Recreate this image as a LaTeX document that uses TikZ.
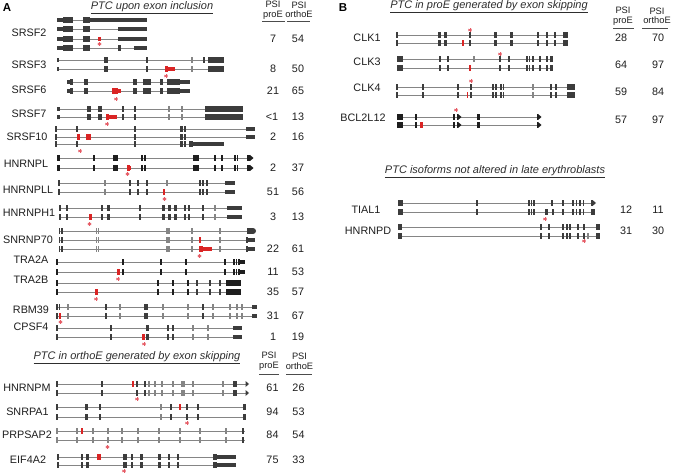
\documentclass[tikz,border=0pt]{standalone}
\usepackage{fontspec}
\setmainfont{Liberation Sans}
\definecolor{exc}{HTML}{3C3C3C}
\definecolor{exk}{HTML}{1E1E1E}
\definecolor{exl}{HTML}{858585}
\definecolor{intc}{HTML}{858585}
\definecolor{ptc}{HTML}{DA2424}
\definecolor{astc}{HTML}{E65A64}
\tikzset{
  intr/.style={draw=intc, line width=0.85pt},
  glab/.style={font=\fontsize{10.8}{12}\selectfont, text=black!88, inner sep=0pt},
  num/.style={font=\fontsize{10.8}{12}\selectfont, text=black!88, inner sep=0pt},
  hdr/.style={font=\fontsize{9.3}{9.6}\selectfont, text=black!88, align=center, inner sep=0pt},
  ttl/.style={font=\fontsize{11}{12}\selectfont\itshape, text=black!82, inner sep=0pt},
  panel/.style={font=\fontsize{11.5}{12}\selectfont\bfseries, inner sep=0pt},
  starc/.style={draw=astc, line width=0.8pt},
  hline/.style={draw=black!70, line width=0.6pt}
}
\newcommand\gline[3]{\draw[intr] (#1,#3) -- (#2,#3);}
\newcommand\bx[4][exc]{\fill[#1] (#2,#4-3.2) rectangle (#3,#4+3.2);}
\newcommand\ub[4][exc]{\fill[#1] (#2,#4-2.1) rectangle (#3,#4+2.1);}
\newcommand\bars[3][exc]{\foreach \xx in {#3}{\fill[#1] (\xx-0.75,#2-3.2) rectangle (\xx+0.75,#2+3.2);}}
\newcommand\tip[3][exc]{\fill[#1] (#2,#3-3) -- (#2+3.5,#3) -- (#2,#3+3) -- cycle;}
\newcommand\pstar[2]{\foreach \a in {90,30,150}{\draw[starc] (#1,#2) +(\a:1.9) -- +(\a+180:1.9);}}
\begin{document}
\begin{tikzpicture}[x=1pt,y=-1pt]
\useasboundingbox (0,0) rectangle (674,473);
\fill[white] (0,0) rectangle (674,473);

% ================= PANEL A =================
\node[panel] (pa) at (7,8) {A};
\node[ttl] (ta) at (152,8) {\underline{PTC upon exon inclusion}};
\node[hdr] (ha1) at (273,10) {PSI\\proE};
\node[hdr] (ha2) at (299,10) {PSI\\orthoE};
\draw[hline] (262,21) -- (285,21);
\draw[hline] (287,21) -- (310,21);

% SRSF2
\node[glab] (g1) at (29,33) {SRSF2};
\node[num] (g1p) at (273,39) {7};
\node[num] (g1o) at (298,39) {54};
\foreach \yy in {20,29,39,48}{\gline{57}{147}{\yy}\ub{57}{63}{\yy}\bx{63}{73}{\yy}\bx{83}{90}{\yy}}
\ub{90}{147}{20}
\ub{118}{147}{29}
\ub[ptc]{98}{101}{39} \ub{118}{147}{39} \pstar{99.5}{44}
\bx{118}{120.5}{48} \ub{134}{147}{48}

% SRSF3
\node[glab] (g2) at (29,65) {SRSF3};
\node[num] (g2p) at (273,69) {8};
\node[num] (g2o) at (298,69) {50};
\foreach \yy in {60,69}{\gline{57}{224}{\yy}\ub{56.5}{58.5}{\yy}\bx{104}{108}{\yy}\bx{146}{148}{\yy}\bars[exl]{\yy}{192}\bx{208}{224}{\yy}}
\bars{60}{204}
\bx[ptc]{165}{168}{69} \ub[ptc]{168}{175}{69} \pstar{166}{76}

% SRSF6
\node[glab] (g3) at (29,90) {SRSF6};
\node[num] (g3p) at (273,91) {21};
\node[num] (g3o) at (298,91) {65};
\foreach \yy in {82,91}{\gline{67}{190}{\yy}\ub{67}{70}{\yy}\bx{70}{73}{\yy}\bx{84}{88}{\yy}\bx{133}{137}{\yy}\bx{143}{151}{\yy}\bx{160}{163}{\yy}\bx{167}{180}{\yy}\ub{180}{190}{\yy}}
\bx[ptc]{112}{118}{91} \ub[ptc]{118}{120.5}{91} \pstar{116}{99}

% SRSF7
\node[glab] (g4) at (29,114) {SRSF7};
\node[num] (g4p) at (272,117) {<1};
\node[num] (g4o) at (298,117) {13};
\foreach \yy in {109,117}{\gline{57}{243}{\yy}\ub{57}{60}{\yy}\bx{87}{91}{\yy}\bx{98}{102}{\yy}\bars{\yy}{123,135}\bars[exl]{\yy}{169,182}\bx{205}{243}{\yy}}
\bx[ptc]{106}{109}{117} \ub[ptc]{109}{117}{117} \pstar{107}{124}

% SRSF10
\node[glab] (g5) at (27,137) {SRSF10};
\node[num] (g5p) at (273,137) {2};
\node[num] (g5o) at (298,137) {16};
\gline{56}{255}{129} \gline{56}{255}{137} \gline{56}{224}{144}
\foreach \yy in {129,137,144}{\bars{\yy}{56,135,185}\bx{180}{183}{\yy}}
\bars{129}{77} \bars{144}{77}
\ub{246}{255}{129} \ub{246}{255}{137}
\bx[ptc]{76.5}{80}{137} \bx[ptc]{86}{91}{137}
\bx{189}{193}{144} \ub{193}{224}{144}
\pstar{80}{151}

% HNRNPL
\node[glab] (g6) at (26,164) {HNRNPL};
\node[num] (g6p) at (273,168) {2};
\node[num] (g6o) at (298,168) {37};
\foreach \yy in {158,168}{\gline{57}{253}{\yy}\bx[exk]{57}{60}{\yy}\bars[exk]{\yy}{94,142,145,215,222,235,237.5}\bx[exk]{113}{118}{\yy}\bx[exk]{193}{199}{\yy}\bx[exk]{247}{250}{\yy}\tip[exk]{250}{\yy}}
\bx[ptc]{127}{129.5}{168} \ub[ptc]{129.5}{131}{168} \pstar{127.5}{174}

% HNRNPLL
\node[glab] (g7) at (28,190) {HNRNPLL};
\node[num] (g7p) at (273,192) {51};
\node[num] (g7o) at (298,192) {56};
\foreach \yy in {183,192}{\gline{59}{235}{\yy}\bars{\yy}{59,130,138,147,200,203,207}\bars[exl]{\yy}{105}\ub{225}{235}{\yy}}
\bars[exl]{183}{167}
\bars[ptc]{192}{164} \pstar{164.5}{199}

% HNRNPH1
\node[glab] (g8) at (29,213) {HNRNPH1};
\node[num] (g8p) at (273,217) {3};
\node[num] (g8o) at (298,217) {13};
\foreach \yy in {208,217}{\gline{59}{242}{\yy}\bars{\yy}{60,140,185,189,203}\bars[exl]{\yy}{215}\bx{66}{68}{\yy}\bx{101}{103}{\yy}\bx{107}{110}{\yy}\bx{162}{165}{\yy}\bx{168}{171}{\yy}\bx{174}{177}{\yy}\ub{227}{242}{\yy}}
\bx[ptc]{89}{92}{217} \pstar{89.5}{224}

% SNRNP70
\node[glab] (g9) at (28,240) {SNRNP70};
\node[num] (g9p) at (273,249) {22};
\node[num] (g9o) at (298,249) {61};
\foreach \yy in {231,240,249}{\gline{59}{255}{\yy}\bars{\yy}{59.5,62}\bars[exl]{\yy}{96.5,98.5,167,169,192,220}}
\bx{247}{253}{231} \fill[exc] (253,231) circle (3);
\bars{240}{247} \ub{248}{255}{240}
\bars{249}{247} \ub{248}{255}{249}
\bars[ptc]{240}{200}
\bx[ptc]{199}{203}{249} \ub[ptc]{203}{212}{249} \pstar{199.5}{256}

% TRA2A
\node[glab] (g10) at (31,260) {TRA2A};
\node[num] (g10p) at (273,272) {11};
\node[num] (g10o) at (298,272) {53};
\foreach \yy in {262,272}{\gline{57}{245}{\yy}\bars[exk]{\yy}{57,123,161,186,225,234,236.5,239}\ub[exk]{240}{245}{\yy}}
\bx[ptc]{117}{120}{272} \pstar{118}{279}

% TRA2B
\node[glab] (g11) at (31,280) {TRA2B};
\node[num] (g11p) at (273,292) {35};
\node[num] (g11o) at (298,292) {57};
\foreach \yy in {283,292}{\gline{57}{241}{\yy}\bars[exk]{\yy}{57,158,173,188}\bars{\yy}{197,210,220}\bx[exk]{226}{241}{\yy}}
\bx[ptc]{95}{97.5}{292} \pstar{96}{299}

% RBM39
\node[glab] (g12) at (31,310) {RBM39};
\node[num] (g12p) at (273,316) {31};
\node[num] (g12o) at (298,316) {67};
\foreach \yy in {307,316}{\gline{57}{257}{\yy}\bars{\yy}{57,106,145,147,203}\bars[exl]{\yy}{68,120,163,188,213,230,237,242}\ub{252}{257}{\yy}}
\bars{307}{59.5}
\bars[ptc]{316}{60} \pstar{60.5}{322}

% CPSF4
\node[glab] (g13) at (31,327) {CPSF4};
\node[num] (g13p) at (273,337) {1};
\node[num] (g13o) at (298,337) {19};
\foreach \yy in {328,337}{\gline{57}{242}{\yy}\bars{\yy}{57,111,168,173}\bars[exl]{\yy}{193,208}\bx{146}{148.5}{\yy}\ub{233}{242}{\yy}}
\bx[ptc]{142}{144.5}{337} \pstar{144}{344}

% ---- lower part of panel A
\node[ttl] (tb) at (137,358) {\underline{PTC in orthoE generated by exon skipping}};
\node[hdr] (hb1) at (269,361) {PSI\\proE};
\node[hdr] (hb2) at (299.5,361) {PSI\\orthoE};
\draw[hline] (259,374) -- (279,374);
\draw[hline] (286,374) -- (312,374);

% HNRNPM
\node[glab] (g14) at (27,388) {HNRNPM};
\node[num] (g14p) at (272.5,388) {61};
\node[num] (g14o) at (298.5,388) {26};
\foreach \yy in {384,393}{\gline{57}{248}{\yy}\bars{\yy}{57,102,137,145}\bars[exl]{\yy}{149,155,162,173,182,184,193,223}\bx{233}{237}{\yy}\tip{245.5}{\yy}}
\bars[ptc]{384}{133} \pstar{137}{399}

% SNRPA1
\node[glab] (g15) at (27.5,412) {SNRPA1};
\node[num] (g15p) at (272.5,412) {94};
\node[num] (g15o) at (298.5,412) {53};
\foreach \yy in {407,417}{\gline{57}{246}{\yy}\bars{\yy}{57,100,171,187,198}\bars[exl]{\yy}{161}\bx{85}{87.5}{\yy}\bx{243}{246}{\yy}}
\bars[ptc]{407}{180} \pstar{187}{423}

% PRPSAP2
\node[glab] (g16) at (27,435) {PRPSAP2};
\node[num] (g16p) at (272.5,435) {84};
\node[num] (g16o) at (298.5,435) {54};
\foreach \yy in {431,440}{\gline{57}{245}{\yy}\bars[exl]{\yy}{57,77,93,108,122,138,159,180,200,226}\bars{\yy}{243}}
\bars[ptc]{431}{82} \pstar{107.5}{447}

% EIF4A2
\node[glab] (g17) at (28,460) {EIF4A2};
\node[num] (g17p) at (272.5,460) {75};
\node[num] (g17o) at (298.5,460) {33};
\foreach \yy in {457,465}{\gline{57}{236}{\yy}\bx{57}{59}{\yy}\bars{\yy}{82,132,169,178}\bx{86}{88.5}{\yy}\bx{123}{127}{\yy}\bx{140}{143}{\yy}\bx{158}{161}{\yy}\bx{213}{217}{\yy}\ub{217}{236}{\yy}}
\bx[ptc]{97}{101}{457} \pstar{124}{471}

% ================= PANEL B =================
\node[panel] (pb) at (343,8) {B};
\node[ttl] (tc) at (489,7) {\underline{PTC in proE generated by exon skipping}};
\node[hdr] (hc1) at (623,16) {PSI\\proE};
\node[hdr] (hc2) at (657,16) {PSI\\orthoE};
\draw[hline] (613,28) -- (634,28);
\draw[hline] (642,28) -- (668,28);

% CLK1
\node[glab] (g18) at (367,38) {CLK1};
\node[num] (g18p) at (621,38) {28};
\node[num] (g18o) at (658,38) {70};
\foreach \yy in {35,43}{\gline{397}{568}{\yy}\bars{\yy}{397,470,538,547,555}\bx{438}{440.5}{\yy}\bx{444}{447}{\yy}\bx{494}{497}{\yy}\bx{510}{513}{\yy}\bx{563}{568}{\yy}}
\pstar{470}{30}
\bars[ptc]{43}{463}

% CLK3
\node[glab] (g19) at (367,62) {CLK3};
\node[num] (g19p) at (621,65) {64};
\node[num] (g19o) at (658,65) {97};
\foreach \yy in {59,68}{\gline{397}{553}{\yy}\bx{397}{403}{\yy}\bars{\yy}{440,448,500,509,527,529.5,533,540,547}\bx{550}{553}{\yy}}
\bars[exl]{59}{474}
\bars[ptc]{68}{470}
\pstar{500}{54}

% CLK4
\node[glab] (g20) at (367,88) {CLK4};
\node[num] (g20p) at (621,92) {59};
\node[num] (g20o) at (658,92) {84};
\foreach \yy in {87,95}{\gline{397}{575}{\yy}\bars{\yy}{397,423,458,471,493,496,501,503.5,551,556}\bars[exl]{\yy}{533}\bx{567}{575}{\yy}}
\bars[ptc]{95}{467.5}
\pstar{471}{81}

% BCL2L12
\node[glab] (g21) at (363,118) {BCL2L12};
\node[num] (g21p) at (621,120) {57};
\node[num] (g21o) at (658,120) {97};
\foreach \yy in {117,125}{\gline{397}{540}{\yy}\bx[exk]{397}{403}{\yy}\bars[exk]{\yy}{416}\bx[exk]{452.5}{455}{\yy}\bx[exk]{457}{458}{\yy}\tip[exk]{458}{\yy}\bx[exk]{477}{480}{\yy}\bx[exk]{537}{538}{\yy}\tip[exk]{538}{\yy}}
\bx[ptc]{420}{422.5}{125}
\pstar{456}{110}

% ---- lower part of panel B
\node[ttl] (td) at (495,172) {\underline{PTC isoforms not altered in late erythroblasts}};

% TIAL1
\node[glab] (g22) at (366,210) {TIAL1};
\node[num] (g22p) at (626,210) {12};
\node[num] (g22o) at (658,210) {11};
\foreach \yy in {203,212}{\gline{398}{595}{\yy}\bx{398}{403}{\yy}\bars{\yy}{477,529,531.5,534,563,573,576.5,580,583.5}}
\bars{203}{552} \bx{591}{592.5}{203} \tip{592.5}{203}
\bx{545}{548}{212} \bars{212}{553} \bx{591}{595}{212}
\pstar{545}{219}

% HNRNPD
\node[glab] (g23) at (368,231) {HNRNPD};
\node[num] (g23p) at (626,231) {31};
\node[num] (g23o) at (658,231) {30};
\foreach \yy in {227,236}{\gline{398}{600}{\yy}\bx{398}{402}{\yy}\bars{\yy}{541,549,563,567,570,578,584}\bx{596}{600}{\yy}}
\bars[exl]{236}{588}
\pstar{584}{241}

\end{tikzpicture}
\end{document}
